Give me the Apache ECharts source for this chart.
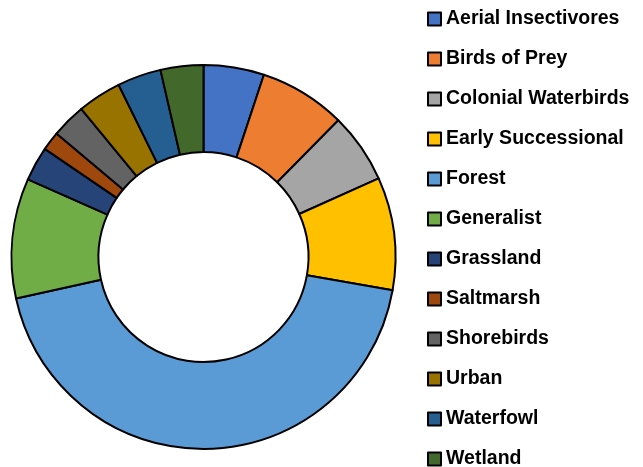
<!DOCTYPE html>
<html>
<head>
<meta charset="utf-8">
<script src="https://cdn.jsdelivr.net/npm/echarts@6/dist/echarts.min.js"></script>
<style>
  html, body { margin: 0; padding: 0; background: #fff; }
  #chart { width: 643px; height: 467px; }
</style>
</head>
<body>
<div id="chart"></div>
<script>
const categories = ['Aerial Insectivores', 'Birds of Prey', 'Colonial Waterbirds', 'Early Successional',
  'Forest', 'Generalist', 'Grassland', 'Saltmarsh', 'Shorebirds', 'Urban', 'Waterfowl', 'Wetland']
const values = [5.1, 7.3, 5.9, 9.5, 43.8, 10.1, 2.9, 1.6, 2.9, 3.7, 3.7, 3.6]
const colors = ['#4472C4', '#ED7D31', '#A5A5A5', '#FFC000', '#5B9BD5', '#70AD47',
  '#264478', '#9E480E', '#636363', '#997300', '#255E91', '#43682B']

const chart = echarts.init(document.getElementById('chart'))
chart.setOption({
  animation: false,
  color: colors,
  legend: {
    orient: 'vertical',
    left: 427,
    top: 9,
    height: 480,
    padding: 0,
    itemWidth: 13,
    itemHeight: 13,
    itemGap: 20,
    icon: 'rect',
    itemStyle: { borderColor: '#000', borderWidth: 2 },
    textStyle: {
      fontFamily: 'Liberation Sans',
      fontWeight: 'bold',
      fontSize: 19.5,
      color: '#000'
    },
    data: categories
  },
  series: [{
    type: 'pie',
    center: [203.5, 257],
    radius: [105, 192],
    startAngle: 90,
    clockwise: true,
    label: { show: false },
    labelLine: { show: false },
    emphasis: { disabled: true },
    itemStyle: { borderColor: '#000', borderWidth: 2 },
    data: categories.map((name, i) => ({ name, value: values[i] }))
  }]
})
</script>
</body>
</html>
